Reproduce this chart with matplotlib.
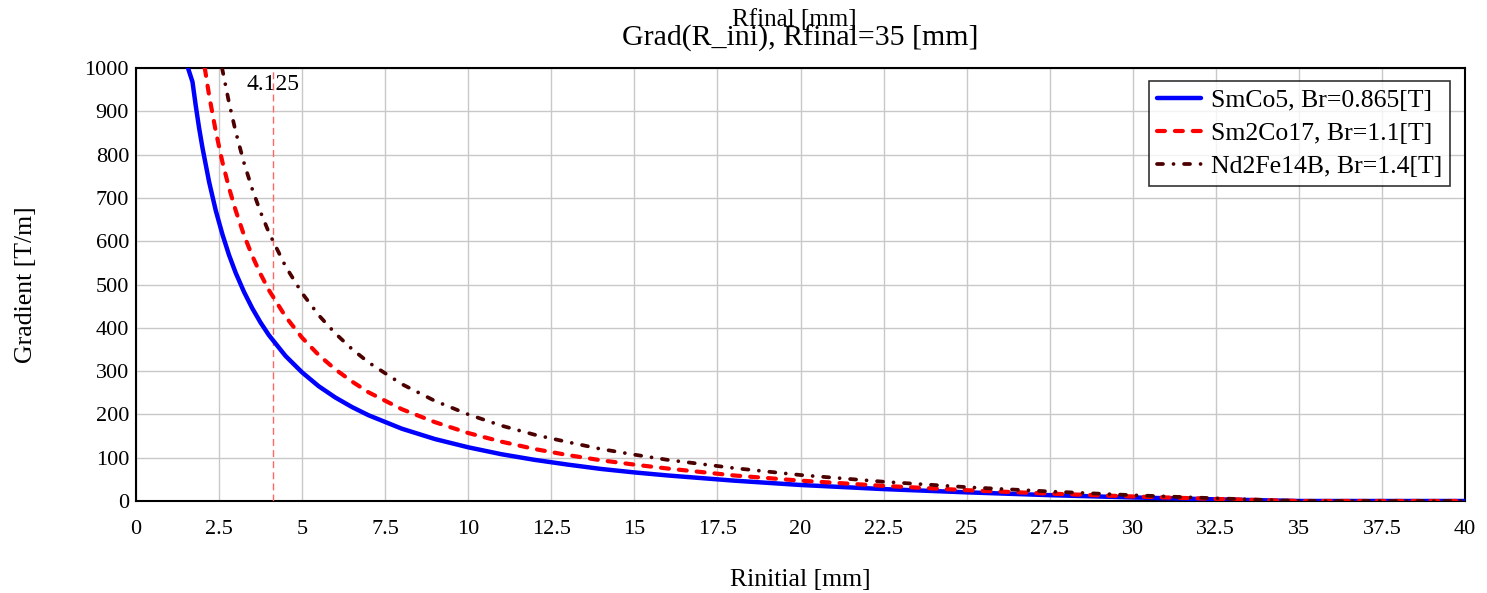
import matplotlib
matplotlib.use("Agg")
import matplotlib.pyplot as plt

plt.rcParams['font.family'] = ['Liberation Serif', 'DejaVu Serif']

# Data (Gradient [T/m] vs Rinitial [mm])
x_smco5 = [1.565, 1.7, 1.8, 1.9, 2.0, 2.2, 2.4, 2.6, 2.8, 3.0, 3.25, 3.5, 3.75, 4.0, 4.5,
           5.0, 5.5, 6.0, 6.5, 7.0, 8.0, 9.0, 10.0, 11.0, 12.0, 13.0, 14.0, 15.0, 16.0,
           18.0, 20.0, 22.5, 25.0, 27.5, 30.0, 32.5, 35.0, 37.5, 40.0]
y_smco5 = [1000, 968, 912, 861, 816, 737, 671, 616, 568, 527, 483, 445, 412, 383, 335,
           297, 265, 239, 217, 198, 167, 143, 124, 108, 95, 84, 74, 66, 59,
           47, 37, 27.5, 20, 13.5, 8.2, 3.8, 0, 0, 0]

x_sm2co17 = [2.07, 2.2, 2.4, 2.6, 2.8, 3.0, 3.25, 3.5, 3.75, 4.0, 4.5, 5.0, 5.5, 6.0, 6.5,
             7.0, 8.0, 9.0, 10.0, 11.0, 12.0, 13.0, 14.0, 15.0, 16.0,
             18.0, 20.0, 22.5, 25.0, 27.5, 30.0, 32.5, 35.0, 37.5, 40.0]
y_sm2co17 = [1000, 937, 854, 783, 723, 671, 614, 566, 524, 487, 426, 377, 337, 304, 276,
             251, 212, 182, 157, 137, 120, 106, 94, 84, 75,
             59, 47, 35, 25, 17, 10.5, 4.8, 0, 0, 0]

x_nd = [2.59, 2.8, 3.0, 3.25, 3.5, 3.75, 4.0, 4.5, 5.0, 5.5, 6.0, 6.5,
        7.0, 8.0, 9.0, 10.0, 11.0, 12.0, 13.0, 14.0, 15.0, 16.0,
        18.0, 20.0, 22.5, 25.0, 27.5, 30.0, 32.5, 35.0, 37.5, 40.0]
y_nd = [1000, 920, 853, 781, 720, 667, 620, 542, 480, 429, 387, 351,
        320, 270, 231, 200, 174, 153, 136, 120, 107, 95,
        76, 60, 44.5, 32, 22, 13.4, 6.2, 0, 0, 0]

marker_x = 4.125
labels = ["SmCo5, Br=0.865[T]", "Sm2Co17, Br=1.1[T]", "Nd2Fe14B, Br=1.4[T]"]
x_ticks = [0, 2.5, 5, 7.5, 10, 12.5, 15, 17.5, 20, 22.5, 25, 27.5, 30, 32.5, 35, 37.5, 40]
x_ticklabels = ["0", "2.5", "5", "7.5", "10", "12.5", "15", "17.5", "20", "22.5", "25",
                "27.5", "30", "32.5", "35", "37.5", "40"]
y_ticks = [0, 100, 200, 300, 400, 500, 600, 700, 800, 900, 1000]

fig = plt.figure(figsize=(14.87, 5.93), dpi=100)
ax = fig.add_axes([136/1487, 1 - 501/593, (1465-136)/1487, (501-68)/593])

ax.plot(x_smco5, y_smco5, color='#0000ff', lw=3.2, ls='-', label=labels[0], zorder=5,
        solid_capstyle='round', solid_joinstyle='round')
ax.plot(x_sm2co17, y_sm2co17, color='#ff0000', lw=3.0, ls=(0, (1.9, 2.4)), label=labels[1],
        zorder=5, dash_capstyle='round')
ax.plot(x_nd, y_nd, color='#4d0000', lw=2.7, ls=(0, (1.6, 2.8, 0.01, 2.8)), label=labels[2],
        zorder=5, dash_capstyle='round')

ax.axvline(marker_x, color='#ff6666', lw=1.0, ls=(0, (5, 3)), zorder=4)
ax.text(marker_x, 985, "4.125", ha='center', va='top', fontsize=17)

ax.set_xlim(0, 40)
ax.set_ylim(0, 1000)
ax.set_xticks(x_ticks)
ax.set_xticklabels(x_ticklabels)
ax.set_yticks(y_ticks)
ax.grid(True, color='#c8c8c8', lw=1.0)
ax.set_axisbelow(True)
ax.tick_params(axis='x', labelsize=16, length=0, pad=14)
ax.tick_params(axis='y', labelsize=16, length=0, pad=5)
for s in ax.spines.values():
    s.set_linewidth(1.5)
    s.set_color('black')

ax.set_xlabel("Rinitial [mm]", fontsize=18.5, labelpad=21)
ax.set_ylabel("Gradient [T/m]", fontsize=18.5, labelpad=34)

fig.text(794/1487, 1 - 20/593, "Rfinal [mm]", ha='center', va='center', fontsize=18)
fig.text(800/1487, 1 - 38/593, "Grad(R_ini), Rfinal=35 [mm]", ha='center', va='center', fontsize=21.5)

leg = ax.legend(loc='upper right', bbox_to_anchor=(1 - 15/1329, 1 - 13/433), fontsize=18.5,
                frameon=True, fancybox=False, edgecolor='black', borderaxespad=0,
                handlelength=1.7, labelspacing=0.4, borderpad=0.3, handletextpad=0.4)
leg.get_frame().set_linewidth(1.2)

fig.savefig("out.png", dpi=100)
